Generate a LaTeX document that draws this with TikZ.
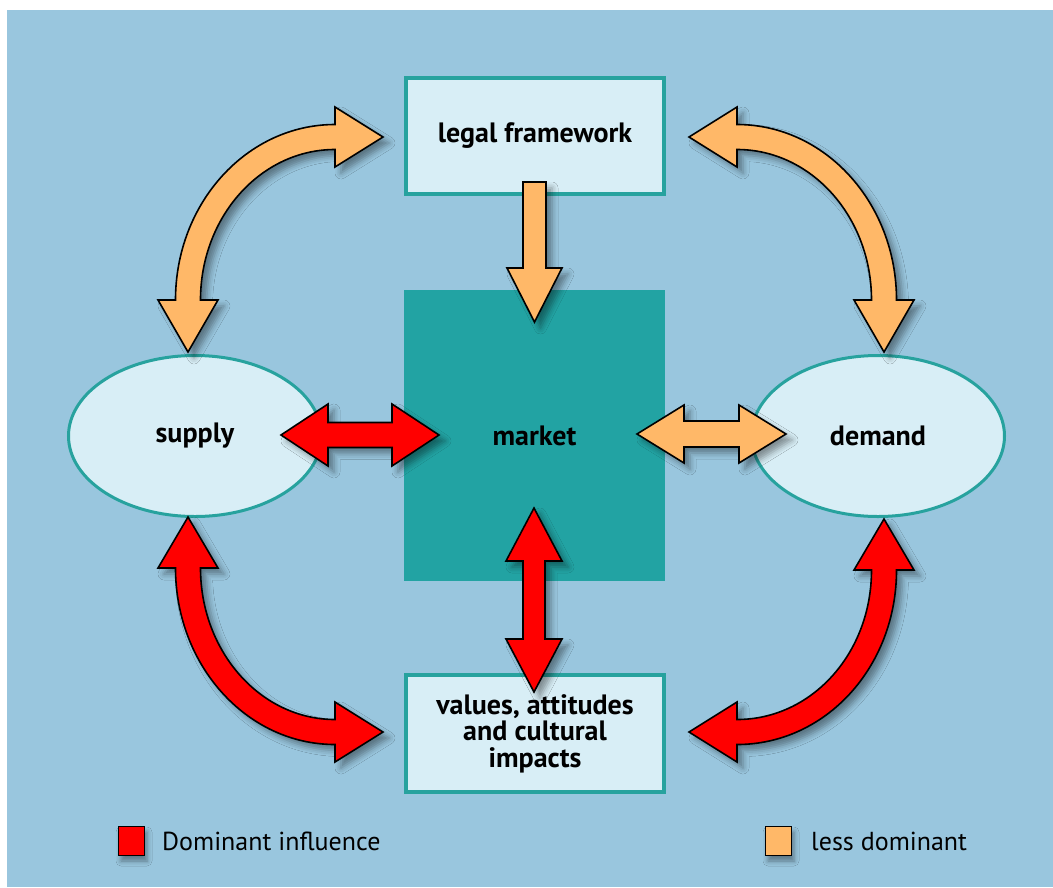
\documentclass[tikz,border=0pt]{standalone}
\usepackage{fontspec}
\setmainfont{PT Sans}
\usetikzlibrary{calc,shapes.geometric,shadows.blur}
\definecolor{panel}{HTML}{99C6DE}
\definecolor{mkteal}{HTML}{22A3A3}
\definecolor{mktealb}{HTML}{27A29E}
\definecolor{boxfill}{HTML}{D8EEF6}
\definecolor{orng}{HTML}{FFB868}
\definecolor{rd}{HTML}{FF0000}
\tikzset{
  arrowshape/.style={draw=black, line width=1.6pt, line join=miter, miter limit=6,
    blur shadow={shadow xshift=6pt, shadow yshift=-6pt, shadow blur radius=6pt, shadow opacity=40}},
  framebox/.style={rectangle, draw=mktealb, line width=4pt, fill=boxfill, inner sep=0pt,
    minimum width=258pt, align=center, font=\bfseries\fontsize{28}{26.5}\selectfont},
  oval/.style={ellipse, draw=mktealb, line width=3pt, fill=boxfill, inner sep=0pt,
    minimum width=253pt, minimum height=161pt, font=\bfseries\fontsize{28}{26.5}\selectfont},
  legendsq/.style={draw=black, line width=1pt,
    blur shadow={shadow xshift=3pt, shadow yshift=-6pt, shadow blur radius=5pt, shadow opacity=40}},
  legendtxt/.style={anchor=base west, inner sep=0pt, font=\fontsize{26}{26}\selectfont}
}
% straight double arrow: style, A, B, head length, head half width, shaft half width
\newcommand\dblarr[6]{%
  \path[#1] (#2) -- ($(#2)!#4!(#3)!#5!90:(#3)$) -- ($(#2)!#4!(#3)!#6!90:(#3)$)
   -- ($(#3)!#4!(#2)!#6!-90:(#2)$) -- ($(#3)!#4!(#2)!#5!-90:(#2)$) -- (#3)
   -- ($(#3)!#4!(#2)!#5!90:(#2)$) -- ($(#3)!#4!(#2)!#6!90:(#2)$)
   -- ($(#2)!#4!(#3)!#6!-90:(#3)$) -- ($(#2)!#4!(#3)!#5!-90:(#3)$) -- cycle;}
% straight single arrow: style, tail, tip, head length, head half width, shaft half width
\newcommand\sglarr[6]{%
  \path[#1] ($(#2)!#6!90:(#3)$) -- ($(#3)!#4!(#2)!#6!-90:(#2)$) -- ($(#3)!#4!(#2)!#5!-90:(#2)$)
   -- (#3) -- ($(#3)!#4!(#2)!#5!90:(#2)$) -- ($(#3)!#4!(#2)!#6!90:(#2)$)
   -- ($(#2)!#6!-90:(#3)$) -- cycle;}
\begin{document}
\begin{tikzpicture}[x=1pt,y=-1pt]
\useasboundingbox (0,0) rectangle (1053,887);
\fill[white] (0,0) rectangle (1053,887);
\fill[panel] (7,10) rectangle (1053,887);

% nodes
\node[framebox, minimum height=116pt] (legal) at (535,136) {legal framework};
\node[rectangle, fill=mkteal, minimum width=261pt, minimum height=291pt, inner sep=0pt,
      font=\bfseries\fontsize{28}{26.5}\selectfont] (market) at (534.5,435.5) {market};
\node[oval] (supply) at (195,436) {supply};
\node[oval] (demand) at (878,436) {demand};
\node[framebox, minimum height=117pt] (values) at (535,733.5) {values, attitudes\\and cultural\\impacts};

% arrow end points
\coordinate (lgA) at (534.5,182);  \coordinate (lgB) at (534.5,322);
\coordinate (smA) at (281,435);    \coordinate (smB) at (439,435);
\coordinate (mdA) at (637,434);    \coordinate (mdB) at (786,434);
\coordinate (mvA) at (534,508);    \coordinate (mvB) at (534,692);

% straight arrows
\sglarr{arrowshape, fill=orng}{lgA}{lgB}{54pt}{27.5pt}{11.5pt}
\dblarr{arrowshape, fill=rd}{smA}{smB}{47pt}{31pt}{12.5pt}
\dblarr{arrowshape, fill=orng}{mdA}{mdB}{47pt}{29pt}{13pt}
\dblarr{arrowshape, fill=rd}{mvA}{mvB}{53pt}{28pt}{11pt}

% curved arrows
\path[arrowshape, fill=orng] (188,352) -- (218,300) -- (200.5,300)
  .. controls (200.5,216.9) and (260.7,149.5) .. (335,149.5) -- (335,167) -- (383,137)
  -- (335,107) -- (335,124.5) .. controls (246.9,124.5) and (175.5,203.1) .. (175.5,300)
  -- (158,300) -- cycle;
\path[arrowshape, fill=orng] (884,352) -- (854,300) -- (871.5,300)
  .. controls (871.5,216.9) and (811.3,149.5) .. (737,149.5) -- (737,167) -- (689,137)
  -- (737,107) -- (737,124.5) .. controls (825.1,124.5) and (896.5,203.1) .. (896.5,300)
  -- (914,300) -- cycle;
\path[arrowshape, fill=rd] (188,517) -- (218,568) -- (200.5,568)
  .. controls (200.5,651.7) and (260.7,719.5) .. (335,719.5) -- (335,702) -- (383,732)
  -- (335,762) -- (335,744.5) .. controls (246.9,744.5) and (175.5,665.5) .. (175.5,568)
  -- (158,568) -- cycle;
\path[arrowshape, fill=rd] (884,519) -- (854,570) -- (871.5,570)
  .. controls (871.5,653.7) and (811.3,719.5) .. (737,719.5) -- (737,702) -- (689,732)
  -- (737,762) -- (737,744.5) .. controls (825.1,744.5) and (896.5,667.5) .. (896.5,570)
  -- (914,570) -- cycle;

% legend
\path[legendsq, fill=rd] (118,826) rectangle (144,855);
\node[legendtxt] (domtxt) at (162,850) {Dominant influence};
\path[legendsq, fill=orng] (765,826) rectangle (791,855);
\node[legendtxt] (lesstxt) at (811,850) {less dominant};
\end{tikzpicture}
\end{document}
